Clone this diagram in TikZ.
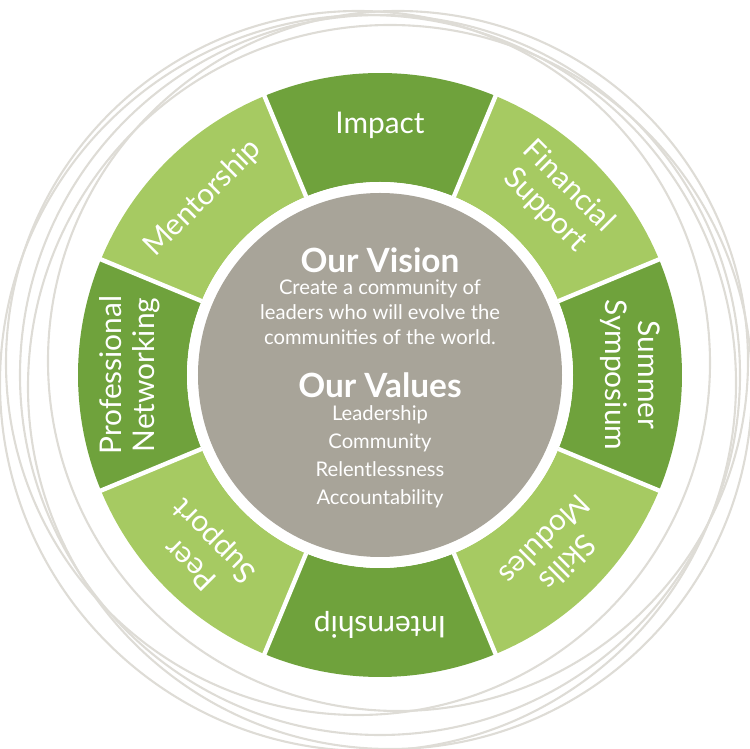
\documentclass[tikz,border=0pt]{standalone}
\usepackage{fontspec}
\setmainfont{Lato}
\usetikzlibrary{calc,positioning}
\definecolor{darkleaf}{HTML}{6FA23C}
\definecolor{lightleaf}{HTML}{A6CA62}
\definecolor{stone}{HTML}{A8A499}
\definecolor{ringgrey}{HTML}{DEDCD6}
\begin{document}
\begin{tikzpicture}[x=0.02cm,y=0.02cm]
    \tikzset{%
        seglabel/.style={white,font=\fontsize{17}{19}\selectfont,align=center,
                inner sep=0pt},%
        bodytext/.style={white,font=\fontsize{11.5}{14}\selectfont,align=center,
                inner sep=0pt},%
        headtext/.style={white,font=\fontsize{19}{22}\selectfont\bfseries,
                inner sep=0pt}%
    }
    %% some definitions

    \def\Rout{302} % outer ring radius
    \def\Rin{193} % inner ring radius
    \def\Rcore{182} % grey core radius
    \def\Rtext{250} % label radius

    \useasboundingbox (-380,-374) rectangle (370,375);

    %% thin outer circles

    \foreach \cx/\cy/\r in {0/0/360, -12/-8/368, 10/-12/362, -22/12/352, 18/14/350}
        \draw[ringgrey,line width=1.2pt] (\cx,\cy) circle (\r);

    %% segments of the ring

    \foreach \a/\col in {90/darkleaf, 45/lightleaf, 0/darkleaf, -45/lightleaf,
            -90/darkleaf, -135/lightleaf, 180/darkleaf, 135/lightleaf}
        \fill[\col] (\a-22.5:\Rin) -- (\a-22.5:\Rout) arc (\a-22.5:\a+22.5:\Rout)
            -- (\a+22.5:\Rin) arc (\a+22.5:\a-22.5:\Rin) -- cycle;
    \foreach \a in {22.5,67.5,...,337.5}
        \draw[white,line width=2.5pt] (\a:\Rin) -- (\a:\Rout+2);
    \fill[white] (0,0) circle (\Rin);
    \fill[stone] (0,0) circle (\Rcore);

    %% segment labels

    \foreach \a/\name/\txt in {90/impact/Impact, 45/finance/Financial\\Support,
            0/symposium/Summer\\Symposium, -45/skills/Skills\\Modules,
            -90/internship/Internship, -135/peer/Peer\\Support,
            180/networking/Professional\\Networking, 135/mentor/Mentorship}
        \node[seglabel,rotate=\a-90] (\name) at (\a:\Rtext) {\txt};

    %% centre text

    \node[headtext] (vision) at (0,115) {Our Vision};
    \node[bodytext,below=4pt of vision] (visiontxt)
        {Create a community of\\leaders who will evolve the\\communities of the world.};
    \node[headtext] (values) at (0,-10) {Our Values};
    \node[bodytext,below=4pt of values,font=\fontsize{11.5}{16}\selectfont] (valuestxt)
        {Leadership\\Community\\Relentlessness\\Accountability};
\end{tikzpicture}
\end{document}
